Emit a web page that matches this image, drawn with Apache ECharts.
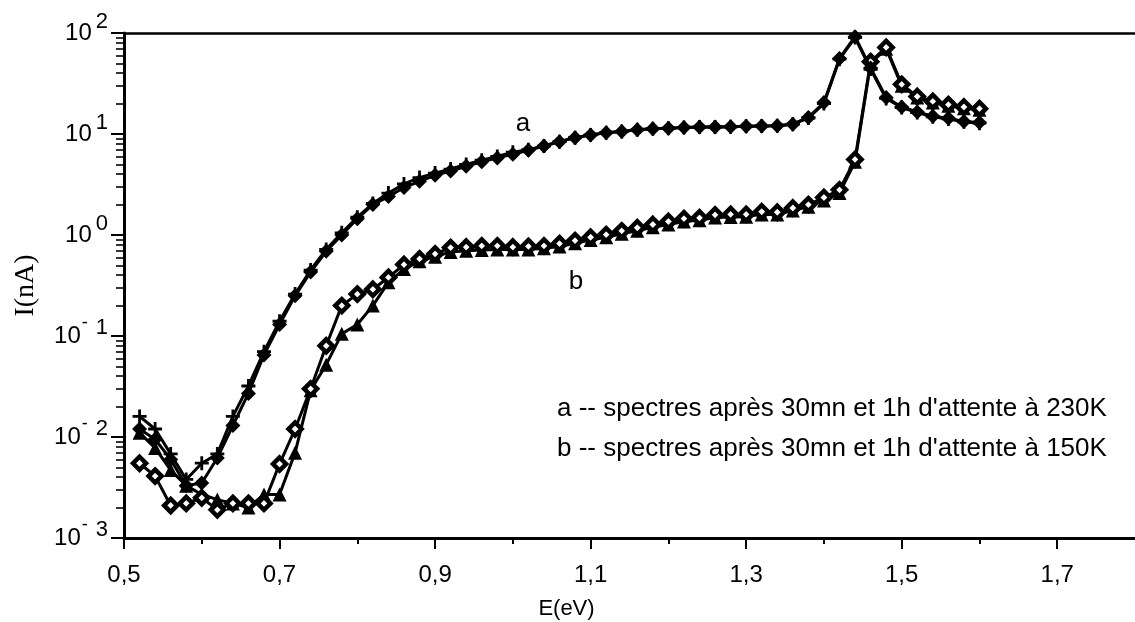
<!DOCTYPE html>
<html><head><meta charset="utf-8">
<script src="https://cdn.jsdelivr.net/npm/echarts@6/dist/echarts.min.js"></script>
<style>html,body{margin:0;padding:0;background:#fff}#c{width:1135px;height:622px}</style>
</head><body><div id="c"></div>
<script>
const E = [0.52,0.54,0.56,0.58,0.60,0.62,0.64,0.66,0.68,0.70,0.72,0.74,0.76,0.78,0.80,0.82,0.84,0.86,0.88,0.90,0.92,0.94,0.96,0.98,1.00,1.02,1.04,1.06,1.08,1.10,1.12,1.14,1.16,1.18,1.20,1.22,1.24,1.26,1.28,1.30,1.32,1.34,1.36,1.38,1.40,1.42,1.44,1.46,1.48,1.50,1.52,1.54,1.56,1.58,1.60];
// a : 230K (diamonds = 30mn, crosses = 1h)
const a30 = [0.012,0.0095,0.006,0.0033,0.0035,0.0062,0.013,0.027,0.065,0.13,
  0.25,0.43,0.69,1.0,1.45,2.0,2.4,2.95,3.4,3.9,
  4.3,4.8,5.3,5.8,6.3,6.9,7.6,8.4,9.2,9.8,
  10.3,10.6,11.0,11.3,11.4,11.6,11.7,11.7,11.8,11.9,
  12.0,12.1,12.5,14.6,20.5,56,92,45,23,18.5,
  16.5,15,14.3,13.3,13];
const a1h = [0.016,0.012,0.0068,0.0038,0.0055,0.0068,0.016,0.032,0.07,0.14,
  0.26,0.45,0.72,1.05,1.5,2.05,2.6,3.2,3.7,4.1,
  4.5,5.0,5.5,6.0,6.6,7.0,7.6,8.4,9.2,9.8,
  10.3,10.6,11.0,11.3,11.4,11.6,11.7,11.7,11.8,11.9,
  12.0,12.1,12.5,14.4,20,55,90,44,22.5,18.3,
  16.3,14.8,14.1,13.2,12.8];
// b : 150K (open diamonds = 30mn, triangles = 1h)
const b30 = [0.0055,0.0041,0.0021,0.0022,0.0025,0.0019,0.0022,0.0022,0.0022,0.0054,
  0.012,0.030,0.080,0.20,0.26,0.29,0.38,0.51,0.58,0.65,
  0.75,0.76,0.78,0.78,0.76,0.77,0.78,0.82,0.88,0.95,
  1.01,1.10,1.18,1.27,1.36,1.45,1.48,1.58,1.60,1.60,
  1.70,1.68,1.85,2.0,2.35,2.8,5.6,52,72,31,
  23.5,21,19.5,18.5,17.8];
const b1h = [0.011,0.0078,0.0047,0.0033,0.0027,0.0024,0.0022,0.0020,0.0027,0.0027,
  0.007,0.029,0.052,0.105,0.13,0.20,0.34,0.46,0.55,0.61,
  0.68,0.70,0.71,0.72,0.72,0.72,0.74,0.77,0.83,0.89,
  0.95,1.03,1.10,1.19,1.27,1.36,1.40,1.49,1.51,1.52,
  1.60,1.60,1.75,1.90,2.2,2.6,5.3,50,70,30,
  23,20.5,19,18,17.4];
const xMajorTicks = [0.5,0.7,0.9,1.1,1.3,1.5,1.7];
const xMinorTicks = [0.6,0.8,1.0,1.2,1.4,1.6];
const yMinorTicks = [0.002,0.003,0.004,0.005,0.006,0.007,0.008,0.009,
  0.02,0.03,0.04,0.05,0.06,0.07,0.08,0.09,
  0.2,0.3,0.4,0.5,0.6,0.7,0.8,0.9,
  2,3,4,5,6,7,8,9,
  20,30,40,50,60,70,80,90];
const curveLabels = ['a','b'];
const legendLines = ["a -- spectres après 30mn et 1h d'attente à 230K", "b -- spectres après 30mn et 1h d'attente à 150K"];
const xName = 'E(eV)';
const yName = 'I(nA)';

const pair = (ys) => E.map((x, i) => [x, ys[i]]);
const SANS = 'Liberation Sans, Arial, Helvetica, sans-serif';
const plus = 'path://M4,0H6V4H10V6H6V10H4V6H0V4H4Z';

const chart = echarts.init(document.getElementById('c'), null, {renderer: 'canvas'});
const baseLine = {color: '#000', width: 3};
function ser(name, ys, symbol, size, style, z) {
  return {name, type: 'line', data: pair(ys), symbol, symbolSize: size, showSymbol: true,
    lineStyle: baseLine, itemStyle: style, z, animation: false, emphasis: {disabled: true}};
}
chart.setOption({
  animation: false,
  backgroundColor: '#fff',
  grid: {left: 124, right: 0, top: 33, bottom: 84, containLabel: false, outerBoundsMode: 'none'},
  xAxis: [
    {type: 'value', min: 0.5, max: 1.8, position: 'bottom',
     axisLine: {show: true, onZero: false, lineStyle: {color: '#000', width: 3}},
     axisTick: {show: true, length: 11, lineStyle: {color: '#000', width: 2}, customValues: xMajorTicks},
     axisLabel: {show: true, customValues: xMajorTicks, color: '#000', fontFamily: SANS, fontSize: 24, margin: 25,
       formatter: v => v.toFixed(1).replace('.', ',')},
     splitLine: {show: false},
     name: xName, nameLocation: 'middle', nameGap: 60,
     nameTextStyle: {color: '#000', fontFamily: SANS, fontSize: 22, padding: [0, 126, 0, 0]}},
    {type: 'value', min: 0.5, max: 1.8, position: 'bottom',
     axisLine: {show: false, onZero: false},
     axisTick: {show: true, length: 6, lineStyle: {color: '#000', width: 2}, customValues: xMinorTicks},
     axisLabel: {show: false}, splitLine: {show: false}},
    {type: 'value', min: 0.5, max: 1.8, position: 'top',
     axisLine: {show: true, onZero: false, lineStyle: {color: '#000', width: 2.5}},
     axisTick: {show: false}, axisLabel: {show: false}, splitLine: {show: false}}
  ],
  yAxis: [
    {type: 'log', logBase: 10, min: 0.001, max: 100, interval: 1, position: 'left',
     axisLine: {show: true, onZero: false, lineStyle: {color: '#000', width: 3}},
     axisTick: {show: true, length: 13, lineStyle: {color: '#000', width: 2}},
     axisLabel: {show: true, color: '#000', fontFamily: SANS, fontSize: 24, margin: 16,
       formatter: v => {
         const e = Math.round(Math.log10(v));
         return e < 0 ? '{b|10}{m|-}{s|' + (-e) + '}' : '{b|10}{p|' + e + '}';
       },
       rich: {
         b: {fontFamily: SANS, fontSize: 24, color: '#000'},
         p: {fontFamily: SANS, fontSize: 22, color: '#000', padding: [0, 0, 22, 4]},
         s: {fontFamily: SANS, fontSize: 22, color: '#000', padding: [0, 0, 16, 8]},
         m: {fontFamily: SANS, fontSize: 18, color: '#000', padding: [0, 0, 26, 1]}
       }},
     splitLine: {show: false},
     name: yName, nameLocation: 'middle', nameGap: 84, nameRotate: 90,
     nameTextStyle: {color: '#000', fontFamily: 'Liberation Serif, Times New Roman, serif', fontSize: 28}},
    {type: 'log', logBase: 10, min: 0.001, max: 100, interval: 1, position: 'left',
     axisLine: {show: false, onZero: false},
     axisTick: {show: true, length: 8, lineStyle: {color: '#000', width: 1.6}, customValues: yMinorTicks},
     axisLabel: {show: false}, splitLine: {show: false}}
  ],
  series: [
    ser('b 1h', b1h, 'triangle', 14, {color: '#000'}, 2),
    ser('b 30mn', b30, 'diamond', 13, {color: '#fff', borderColor: '#000', borderWidth: 4.5}, 3),
    ser('a 1h', a1h, plus, 14, {color: '#000'}, 4),
    ser('a 30mn', a30, 'diamond', 15, {color: '#000'}, 5)
  ],
  graphic: [
    {type: 'text', x: 523, y: 124, style: {text: curveLabels[0], fill: '#000', font: '26px ' + SANS, textAlign: 'center', textVerticalAlign: 'middle'}},
    {type: 'text', x: 576, y: 282, style: {text: curveLabels[1], fill: '#000', font: '26px ' + SANS, textAlign: 'center', textVerticalAlign: 'middle'}},
    {type: 'text', x: 557, y: 409, style: {text: legendLines[0], fill: '#000', font: '26px ' + SANS, textAlign: 'left', textVerticalAlign: 'middle'}},
    {type: 'text', x: 557, y: 449, style: {text: legendLines[1], fill: '#000', font: '26px ' + SANS, textAlign: 'left', textVerticalAlign: 'middle'}}
  ]
});
</script></body></html>
